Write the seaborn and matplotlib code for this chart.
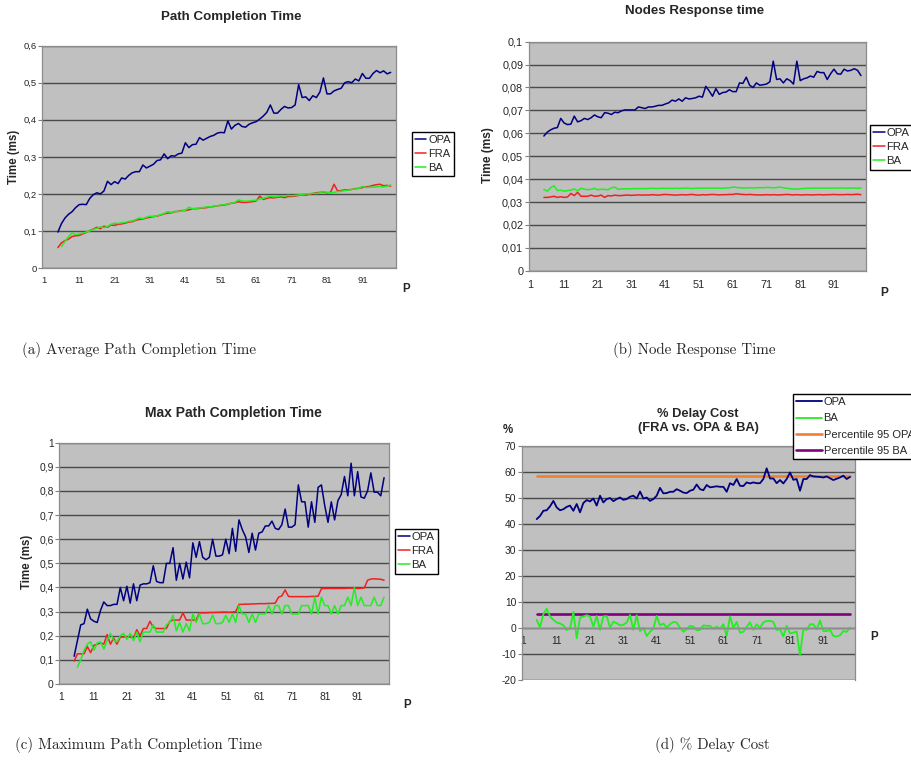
import numpy as np
import matplotlib
matplotlib.use("Agg")
import matplotlib.pyplot as plt
import seaborn as sns

# x = P (number of paths), series start at P=5 (BA of a/c starts at 6)
P = list(range(5, 100))
P_BA = list(range(6, 100))
XT = [1, 11, 21, 31, 41, 51, 61, 71, 81, 91]

################################################################################
# (a) Path Completion Time (ms)
OPA_A = [0.097, 0.120, 0.135, 0.145, 0.152, 0.163, 0.171, 0.172, 0.171, 0.188,
         0.198, 0.203, 0.200, 0.208, 0.234, 0.225, 0.233, 0.228, 0.243, 0.240,
         0.250, 0.257, 0.260, 0.260, 0.278, 0.270, 0.275, 0.280, 0.290, 0.292,
         0.308, 0.295, 0.303, 0.302, 0.308, 0.310, 0.338, 0.325, 0.333, 0.334,
         0.352, 0.345, 0.350, 0.355, 0.358, 0.364, 0.366, 0.365, 0.397, 0.375,
         0.385, 0.390, 0.382, 0.380, 0.388, 0.392, 0.395, 0.402, 0.410, 0.420,
         0.440, 0.418, 0.418, 0.428, 0.436, 0.432, 0.433, 0.440, 0.495, 0.460,
         0.462, 0.452, 0.465, 0.460, 0.475, 0.513, 0.470, 0.470, 0.478, 0.482,
         0.485, 0.500, 0.503, 0.500, 0.510, 0.505, 0.525, 0.512, 0.512, 0.525,
         0.533, 0.527, 0.532, 0.524, 0.528]
FRA_A = [.055, .068, .074, .078, .085, .087, .088, .092, .096, .101,
         .105, .110, .106, .113, .110, .116, .115, .118, .119, .121,
         .124, .125, .129, .131, .132, .135, .137, .139, .140, .143,
         .146, .148, .149, .152, .153, .155, .155, .157, .160, .160,
         .161, .162, .163, .165, .166, .168, .169, .170, .172, .175,
         .176, .179, .177, .177, .178, .179, .181, .194, .185, .188,
         .190, .189, .191, .192, .190, .193, .193, .194, .196, .198,
         .197, .199, .201, .203, .204, .205, .203, .204, .226, .208,
         .209, .211, .211, .212, .214, .215, .217, .219, .220, .223,
         .225, .226, .222, .223, .221]
BA_A = [.058, .072, .085, .095, .090, .092, .094, .097, .100, .104,
        .107, .111, .109, .112, .118, .121, .120, .122, .123, .126,
        .127, .131, .135, .133, .137, .140, .138, .141, .144, .147,
        .152, .150, .153, .152, .154, .156, .164, .160, .161, .162,
        .163, .165, .165, .167, .168, .170, .171, .173, .175, .177,
        .184, .181, .180, .181, .182, .183, .186, .188, .191, .194,
        .192, .193, .195, .194, .196, .195, .196, .197, .199, .200,
        .200, .202, .201, .203, .206, .204, .203, .204, .206, .207,
        .209, .210, .212, .213, .215, .220, .217, .218, .218, .219,
        .220, .219, .221, .224]

# (b) Nodes Response time (ms)
OPA_B = [.0588, .0605, .0615, .0622, .0625, .0665, .0645, .0638, .0640, .0675,
         .0650, .0655, .0665, .0660, .0668, .0680, .0672, .0668, .0690, .0688,
         .0682, .0692, .0690, .0698, .0702, .0702, .0702, .0702, .0715, .0712,
         .0708, .0715, .0715, .0718, .0722, .0722, .0728, .0733, .0745, .0740,
         .0750, .0740, .0755, .0750, .0752, .0755, .0762, .0758, .0805, .0785,
         .0762, .0795, .0770, .0778, .0780, .0790, .0782, .0782, .0820, .0818,
         .0845, .0810, .0800, .0820, .0810, .0812, .0815, .0825, .0915, .0835,
         .0838, .0820, .0838, .0830, .0815, .0915, .0830, .0838, .0842, .0850,
         .0845, .0870, .0865, .0865, .0835, .0860, .0880, .0860, .0858, .0880,
         .0872, .0875, .0882, .0875, .0852]
FRA_B = [.0320, .0320, .0322, .0325, .0320, .0323, .0320, .0322, .0337, .0328,
         .0342, .0325, .0325, .0325, .0330, .0325, .0326, .0330, .0320, .0328,
         .0326, .0330, .0328, .0328, .0330, .0330, .0329, .0330, .0331, .0330,
         .0331, .0330, .0332, .0331, .0330, .0332, .0333, .0332, .0331, .0330,
         .0331, .0332, .0331, .0332, .0333, .0331, .0330, .0332, .0331, .0332,
         .0333, .0332, .0331, .0332, .0332, .0333, .0333, .0336, .0334, .0333,
         .0332, .0333, .0332, .0331, .0331, .0331, .0332, .0331, .0332, .0331,
         .0331, .0332, .0333, .0332, .0331, .0332, .0331, .0331, .0332, .0331,
         .0331, .0332, .0332, .0331, .0332, .0332, .0333, .0332, .0332, .0332,
         .0333, .0332, .0333, .0334, .0332]
BA_B = [.0355, .0347, .0362, .0371, .0350, .0352, .0347, .0350, .0352, .0357,
        .0349, .0360, .0356, .0354, .0355, .0360, .0353, .0356, .0355, .0353,
        .0362, .0365, .0355, .0357, .0358, .0357, .0358, .0359, .0358, .0359,
        .0358, .0359, .0360, .0359, .0359, .0360, .0359, .0360, .0359, .0360,
        .0359, .0360, .0361, .0360, .0359, .0360, .0361, .0360, .0360, .0361,
        .0360, .0361, .0360, .0360, .0361, .0362, .0365, .0364, .0362, .0361,
        .0361, .0362, .0361, .0362, .0363, .0362, .0364, .0363, .0362, .0363,
        .0365, .0362, .0360, .0358, .0357, .0356, .0358, .0359, .0360, .0360,
        .0361, .0360, .0361, .0360, .0361, .0360, .0361, .0360, .0361, .0361,
        .0360, .0361, .0361, .0360, .0361]

# (c) Max Path Completion Time (ms)
OPA_C = [.115, .180, .245, .250, .310, .270, .260, .255, .305, .340,
         .325, .325, .330, .330, .400, .345, .405, .335, .415, .345,
         .410, .415, .415, .420, .490, .425, .420, .420, .500, .500,
         .565, .430, .500, .435, .505, .440, .585, .525, .590, .525,
         .515, .525, .600, .530, .530, .535, .600, .540, .645, .550,
         .680, .640, .610, .545, .625, .555, .625, .630, .655, .655,
         .675, .645, .640, .660, .725, .650, .650, .660, .825, .755,
         .755, .650, .755, .670, .815, .825, .740, .670, .755, .680,
         .760, .785, .860, .780, .915, .780, .880, .775, .770, .800,
         .875, .795, .795, .780, .855]
FRA_C = [.095, .125, .125, .125, .155, .130, .160, .165, .170, .165,
         .205, .165, .190, .165, .195, .195, .195, .195, .190, .225,
         .200, .230, .230, .260, .235, .230, .230, .230, .230, .260,
         .265, .265, .265, .295, .265, .265, .265, .265, .295, .295,
         .295, .296, .296, .297, .297, .298, .298, .297, .298, .300,
         .330, .330, .331, .331, .332, .332, .333, .333, .333, .334,
         .334, .335, .360, .365, .390, .363, .362, .362, .362, .362,
         .362, .362, .363, .363, .364, .395, .396, .396, .396, .396,
         .396, .396, .396, .397, .397, .397, .396, .397, .398, .430,
         .435, .436, .435, .434, .430]
BA_C = [.070, .100, .140, .165, .175, .140, .170, .175, .145, .180,
        .210, .180, .175, .200, .210, .185, .210, .180, .215, .175,
        .215, .215, .215, .245, .215, .215, .215, .245, .255, .285,
        .220, .255, .215, .250, .220, .290, .255, .290, .250, .250,
        .255, .285, .250, .250, .255, .285, .255, .290, .255, .325,
        .290, .290, .255, .290, .255, .290, .290, .290, .325, .290,
        .325, .325, .290, .325, .325, .290, .290, .290, .325, .325,
        .325, .290, .360, .290, .360, .325, .325, .290, .325, .290,
        .325, .325, .360, .325, .400, .325, .360, .325, .325, .325,
        .360, .325, .325, .360]

# (d) % Delay Cost (FRA vs. OPA & BA)
OPA_D = [41.8, 43.0, 45.0, 45.2, 46.7, 48.8, 46.3, 45.2, 45.6, 46.5,
         47.0, 45.0, 47.6, 44.4, 48.0, 49.1, 48.6, 49.7, 47.0, 50.8,
         48.2, 49.5, 49.9, 48.7, 49.5, 50.1, 49.2, 49.5, 50.4, 50.8,
         49.7, 52.4, 49.7, 50.1, 48.8, 49.5, 50.8, 53.8, 51.7, 51.8,
         52.3, 52.3, 53.3, 52.7, 52.0, 51.8, 52.7, 53.1, 55.1, 53.3,
         52.9, 54.9, 54.0, 54.2, 54.4, 54.2, 54.2, 52.3, 55.6, 54.9,
         57.2, 54.6, 54.5, 55.9, 55.5, 55.9, 55.6, 55.6, 57.2, 61.3,
         57.4, 57.4, 55.6, 56.8, 55.5, 57.2, 59.7, 56.9, 57.2, 52.7,
         57.2, 57.2, 58.7, 58.2, 58.1, 58.0, 57.8, 58.2, 57.5, 56.8,
         57.3, 57.8, 58.5, 57.2, 58.0]
BA_D = [3.1, 0.3, 5.3, 7.4, 4.4, 3.1, 2.1, 1.7, 1.0, -0.8,
        -0.3, 6.2, -4.0, 4.0, 4.4, 4.9, 4.4, 0.5, 4.6, -0.8,
        4.4, 4.6, 0.1, 2.4, 1.8, 1.0, 1.2, 2.1, 5.0, -0.8,
        4.9, -1.2, 0.1, -3.1, -1.5, -0.3, 4.6, 1.0, 1.7, 0.1,
        1.4, 2.3, 2.1, 0.1, -1.5, -0.5, 0.8, 0.5, -0.9, -0.8,
        1.0, 0.8, 0.8, -0.3, 0.5, -0.3, 1.4, -3.1, 4.4, 0.1,
        2.3, -1.8, -1.5, 0.4, 2.1, -0.8, 1.4, 0.1, 2.1, 2.7,
        2.7, 2.3, -0.8, -0.5, -3.3, 0.8, -2.1, -1.8, -1.4, -10.5,
        -0.5, -0.8, 1.4, 1.4, -0.5, 2.8, -1.2, -1.2, -0.8, -3.1,
        -3.3, -2.8, -1.2, -1.5, 0.1]
P95_OPA = 58.2
P95_BA = 5.3

################################################################################
W, H = 912, 765
C_OPA = '#000080'
C_FRA = '#f02020'
C_BA = '#22ee22'
C_P95O = '#f08030'
C_P95B = '#800080'

sns.set_style("white")
plt.rcParams['font.family'] = ['Liberation Sans', 'DejaVu Sans']

def fx(x):
    return x / W

def fy(y):
    return 1 - y / H

def box(l, t, r, b):
    return [fx(l), fy(b), (r - l) / W, (b - t) / H]

def style_axes(ax, ylim, yticks, ylabels, fs, xpad):
    ax.set_facecolor('#c0c0c0')
    ax.set_xlim(0.5, 100.5)
    ax.set_ylim(*ylim)
    ax.set_yticks(yticks)
    ax.set_yticklabels(ylabels, fontsize=fs)
    ax.set_xticks(XT)
    ax.set_xticklabels([str(v) for v in XT], fontsize=fs)
    ax.set_xticks(np.arange(5.5, 100, 5), minor=True)
    ax.tick_params(axis='x', which='major', length=0, pad=xpad)
    ax.tick_params(axis='x', which='minor', length=3, color='#808080', direction='out')
    ax.tick_params(axis='y', length=3, color='#808080', pad=1, direction='out', left=True)
    ax.grid(axis='y', color='#4a4a4a', lw=1.0)
    ax.grid(axis='x', visible=False)
    ax.set_axisbelow(True)
    for s in ax.spines.values():
        s.set_color('#8c8c8c')
        s.set_linewidth(0.9)
    ax.set_xlabel('')
    ax.set_ylabel('')

def comma(v, nd):
    if v == 0:
        return '0'
    if v == int(v):
        return str(int(v))
    return ('%.*f' % (nd, v)).replace('.', ',')

def add_legend(ax, x, y, fs, order=None, hl=1.0, ls=0.35):
    h, l = ax.get_legend_handles_labels()
    if ax.get_legend() is not None:
        ax.get_legend().remove()
    if order is not None:
        h = [h[i] for i in order]
        l = [l[i] for i in order]
    fig.legend(h, l, loc='upper left', bbox_to_anchor=(fx(x), fy(y)),
               fontsize=fs, frameon=True, fancybox=False, edgecolor='black',
               framealpha=1, borderpad=0.3, labelspacing=ls,
               handlelength=hl, handletextpad=0.15, borderaxespad=0)

fig = plt.figure(figsize=(W / 100, H / 100), dpi=100)

# ---------------- (a)
ax = fig.add_axes(box(42, 45.7, 396, 268))
sns.lineplot(x=P, y=OPA_A, ax=ax, color=C_OPA, lw=1.1, label='OPA')
sns.lineplot(x=P, y=FRA_A, ax=ax, color=C_FRA, lw=1.1, label='FRA')
sns.lineplot(x=P_BA, y=BA_A, ax=ax, color=C_BA, lw=1.1, label='BA')
yt = [0, 0.1, 0.2, 0.3, 0.4, 0.5, 0.6]
style_axes(ax, (0, 0.6), yt, [comma(v, 1) for v in yt], 6.8, 6)
add_legend(ax, 412, 132, 8.0)
fig.text(fx(231), fy(17), 'Path Completion Time', fontsize=9.6, fontweight='bold', ha='center', va='center')
fig.text(fx(14), fy(157), 'Time (ms)', fontsize=8.3, fontweight='bold', rotation=90, ha='center', va='center')
fig.text(fx(406), fy(289), 'P', fontsize=8.3, fontweight='bold', ha='center', va='center')

# ---------------- (b)
ax = fig.add_axes(box(528.7, 41.7, 866, 270.7))
sns.lineplot(x=P, y=OPA_B, ax=ax, color=C_OPA, lw=1.1, label='OPA')
sns.lineplot(x=P, y=FRA_B, ax=ax, color=C_FRA, lw=1.1, label='FRA')
sns.lineplot(x=P, y=BA_B, ax=ax, color=C_BA, lw=1.1, label='BA')
yt = [round(0.01 * k, 2) for k in range(11)]
style_axes(ax, (0, 0.1), yt, [comma(v, 2) if v not in (0, 0.1) else ('0' if v == 0 else '0,1') for v in yt], 7.8, 7)
add_legend(ax, 870, 125, 8.2)
fig.text(fx(695), fy(11), 'Nodes Response time', fontsize=9.6, fontweight='bold', ha='center', va='center')
fig.text(fx(488), fy(155), 'Time (ms)', fontsize=8.6, fontweight='bold', rotation=90, ha='center', va='center')
fig.text(fx(884), fy(293), 'P', fontsize=8.6, fontweight='bold', ha='center', va='center')

# ---------------- (c)
ax = fig.add_axes(box(59.3, 442.7, 389, 684))
sns.lineplot(x=P, y=OPA_C, ax=ax, color=C_OPA, lw=1.1, label='OPA')
sns.lineplot(x=P, y=FRA_C, ax=ax, color=C_FRA, lw=1.1, label='FRA')
sns.lineplot(x=P_BA, y=BA_C, ax=ax, color=C_BA, lw=1.1, label='BA')
yt = [round(0.1 * k, 1) for k in range(11)]
style_axes(ax, (0, 1), yt, [comma(v, 1) for v in yt], 7.4, 6)
add_legend(ax, 395, 529, 8.2)
fig.text(fx(233), fy(413), 'Max Path Completion Time', fontsize=10, fontweight='bold', ha='center', va='center')
fig.text(fx(27), fy(562), 'Time (ms)', fontsize=8.3, fontweight='bold', rotation=90, ha='center', va='center')
fig.text(fx(407), fy(705), 'P', fontsize=8.3, fontweight='bold', ha='center', va='center')

# ---------------- (d)
ax = fig.add_axes(box(521.7, 445.7, 855, 680))
ax.spines['bottom'].set_position(('data', 0))
sns.lineplot(x=P, y=[P95_OPA] * len(P), ax=ax, color=C_P95O, lw=1.9, label='Percentile 95 OPA')
sns.lineplot(x=P, y=[P95_BA] * len(P), ax=ax, color=C_P95B, lw=1.9, label='Percentile 95 BA')
sns.lineplot(x=P, y=OPA_D, ax=ax, color=C_OPA, lw=1.3, label='OPA')
sns.lineplot(x=P, y=BA_D, ax=ax, color=C_BA, lw=1.3, label='BA')
yt = list(range(-20, 71, 10))
style_axes(ax, (-20, 70), yt, [str(v) for v in yt], 7.4, 6)
ax.tick_params(axis='x', which='minor', direction='inout', length=4)
add_legend(ax, 793, 394, 8.0, order=[2, 3, 0, 1], hl=2.3, ls=0.55)
fig.text(fx(698), fy(421), '% Delay Cost\n(FRA vs. OPA & BA)', fontsize=9.3, fontweight='bold',
         ha='center', va='center', linespacing=1.3)
fig.text(fx(508), fy(430), '%', fontsize=8.3, fontweight='bold', ha='center', va='center')
fig.text(fx(874), fy(637), 'P', fontsize=8.3, fontweight='bold', ha='center', va='center')

# ---------------- captions
cap = dict(fontsize=10.8, family='cmr10', ha='center', va='center')
fig.text(fx(139), fy(350), '(a) Average Path Completion Time', **cap)
fig.text(fx(694), fy(350), '(b) Node Response Time', **cap)
fig.text(fx(139), fy(745), '(c) Maximum Path Completion Time', **cap)
fig.text(fx(712), fy(745), '(d) % Delay Cost', **cap)

fig.savefig('out.png', dpi=100)
